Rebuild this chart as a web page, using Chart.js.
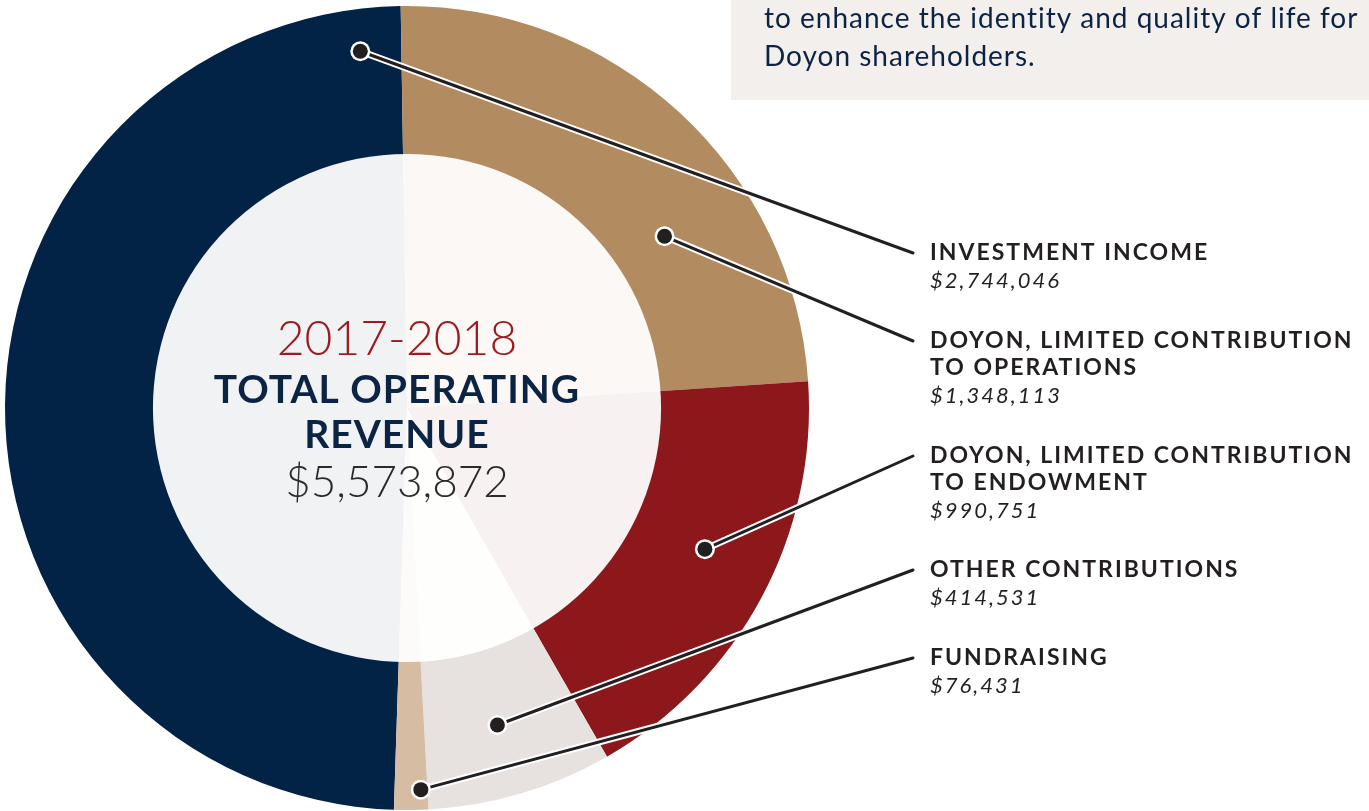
<!DOCTYPE html>
<html>
<head>
<meta charset="utf-8">
<script src="https://cdn.jsdelivr.net/npm/chart.js@4.4.1/dist/chart.umd.min.js"></script>
<style>
  html, body { margin: 0; padding: 0; background: #ffffff; }
  #wrap { position: relative; width: 1369px; height: 811px; overflow: hidden; }
</style>
</head>
<body>
<div id="wrap"><canvas id="revenue-chart"></canvas></div>
<script>
// data
const categories = [
  'INVESTMENT INCOME',
  'DOYON, LIMITED CONTRIBUTION TO OPERATIONS',
  'DOYON, LIMITED CONTRIBUTION TO ENDOWMENT',
  'OTHER CONTRIBUTIONS',
  'FUNDRAISING'
];
const labelLines = [
  ['INVESTMENT INCOME'],
  ['DOYON, LIMITED CONTRIBUTION', 'TO OPERATIONS'],
  ['DOYON, LIMITED CONTRIBUTION', 'TO ENDOWMENT'],
  ['OTHER CONTRIBUTIONS'],
  ['FUNDRAISING']
];
const revenue = [2744046, 1348113, 990751, 414531, 76431];
const sliceColors = ['#022345', '#b38b60', '#8c181b', '#e7e2df', '#d6bca3'];
const centerTitle = ['2017-2018', 'TOTAL OPERATING', 'REVENUE'];
const introText = ['to enhance the identity and quality of life for', 'Doyon shareholders.'];

// layout (not data)
const labelY = [253, 341, 456, 570, 658]; // middle of first label line
const dotSpot = [[0.963, 0.895], [0.657, 0.77], [0.456, 0.82], [0.52, 0.82], [0.2, 0.95]]; // [fraction of slice, fraction of radius]

const total = revenue.reduce((a, b) => a + b, 0);
const money = (v) => '$' + v.toLocaleString('en-US');

const NAVY = '#0c2444';
const INK = '#231f20';

const decor = {
  id: 'decor',
  beforeDraw(chart) {
    const c = chart.ctx;
    c.save();
    c.fillStyle = '#f2efec';
    c.fillRect(731, 0, 638, 100);
    c.fillStyle = NAVY;
    c.font = '28px Lato';
    c.letterSpacing = '1px';
    c.textBaseline = 'alphabetic';
    c.fillText(introText[0], 764, 28);
    c.fillText(introText[1], 764, 66);
    c.restore();
  },
  afterDatasetsDraw(chart) {
    const c = chart.ctx;
    const arcs = chart.getDatasetMeta(0).data;
    const { x, y, outerRadius } = arcs[0];

    c.save();
    // light disc over the middle of the pie
    c.beginPath();
    c.arc(x, y, outerRadius * 0.632, 0, Math.PI * 2);
    c.fillStyle = 'rgba(255,255,255,0.94)';
    c.fill();

    // centre text
    const tx = x - 10;
    c.textAlign = 'center';
    c.textBaseline = 'alphabetic';
    c.fillStyle = '#9b1c20';
    c.font = '300 48px Lato';
    c.fillText(centerTitle[0], tx, y - 53);
    c.fillStyle = NAVY;
    c.font = 'bold 39px Lato';
    c.letterSpacing = '1px';
    c.fillText(centerTitle[1], tx, y - 5);
    c.fillText(centerTitle[2], tx, y + 40);
    c.letterSpacing = '0px';
    c.fillStyle = '#2b2b2b';
    c.font = '300 44px Lato';
    c.fillText(money(total), tx, y + 89);

    // leader lines, dots and labels
    const lx = 930;
    arcs.forEach((arc, i) => {
      const [f, rf] = dotSpot[i];
      const a = arc.startAngle + (arc.endAngle - arc.startAngle) * f;
      const dx = x + Math.cos(a) * outerRadius * rf;
      const dy = y + Math.sin(a) * outerRadius * rf;
      const ex = lx - 17;
      const ey = labelY[i];

      c.lineCap = 'round';
      c.strokeStyle = '#ffffff';
      c.lineWidth = 7;
      c.beginPath(); c.moveTo(dx, dy); c.lineTo(ex, ey); c.stroke();
      c.strokeStyle = INK;
      c.lineWidth = 3;
      c.beginPath(); c.moveTo(dx, dy); c.lineTo(ex, ey); c.stroke();

      c.fillStyle = '#ffffff';
      c.beginPath(); c.arc(dx, dy, 10, 0, Math.PI * 2); c.fill();
      c.fillStyle = INK;
      c.beginPath(); c.arc(dx, dy, 7.5, 0, Math.PI * 2); c.fill();

      c.textAlign = 'left';
      c.textBaseline = 'middle';
      c.fillStyle = INK;
      c.font = 'bold 23px Lato';
      c.letterSpacing = '2px';
      let ly = labelY[i];
      labelLines[i].forEach((t, k) => {
        if (k > 0) ly += 26.5;
        c.fillText(t, lx, ly);
      });
      c.font = 'italic 22px Lato';
      c.fillText(money(revenue[i]), lx, ly + 28);
      c.letterSpacing = '0px';
    });
    c.restore();
  }
};

new Chart(document.getElementById('revenue-chart'), {
  type: 'pie',
  data: {
    labels: categories,
    datasets: [
      {
        data: revenue,
        backgroundColor: sliceColors,
        borderWidth: 0,
        hoverOffset: 0
      }
    ]
  },
  options: {
    responsive: true,
    maintainAspectRatio: false,
    animation: false,
    radius: 402,
    rotation: 360 - (360 * revenue[0]) / total - 0.9, // navy slice ends just left of 12 o'clock
    layout: {
      padding: { left: 0, right: 555, top: 5, bottom: 0 }
    },
    plugins: {
      legend: { display: false },
      tooltip: { enabled: false }
    }
  },
  plugins: [decor]
});
</script>
</body>
</html>
